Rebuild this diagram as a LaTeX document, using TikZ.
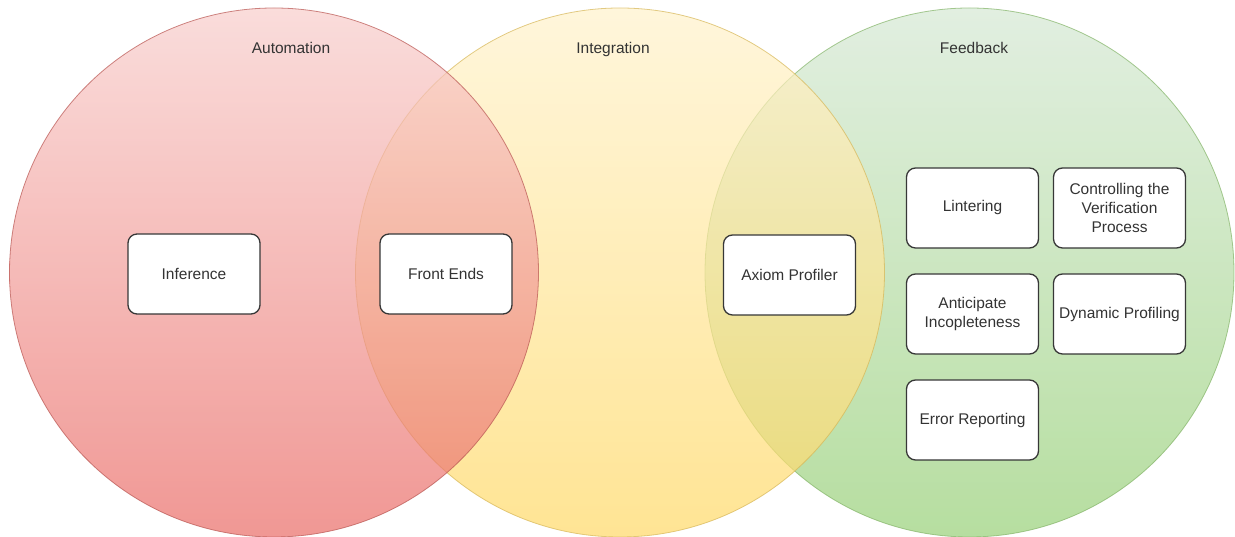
\documentclass[tikz,border=0pt]{standalone}
\usepackage{fontspec}
\setmainfont{Liberation Sans}
\begin{document}
\begin{tikzpicture}[x=1pt,y=1pt,
    topic/.style={font=\fontsize{15.5}{19}\selectfont,text=labeltext,anchor=base},
    item/.style={draw=boxstroke,fill=white,line width=1.3pt,rounded corners=9pt,
      minimum width=132pt,minimum height=80pt,inner sep=0pt,align=center,
      font=\fontsize{15.5}{19}\selectfont,text=labeltext}]
  \definecolor{labeltext}{RGB}{51,51,51}
  \definecolor{boxstroke}{RGB}{55,55,55}
  \definecolor{redupper}{RGB}{248,206,204}
  \definecolor{redlower}{RGB}{234,107,102}
  \definecolor{redstroke}{RGB}{184,84,80}
  \definecolor{yelupper}{RGB}{255,242,204}
  \definecolor{yellower}{RGB}{255,217,102}
  \definecolor{yelstroke}{RGB}{214,182,86}
  \definecolor{grnupper}{RGB}{213,232,212}
  \definecolor{grnlower}{RGB}{151,208,119}
  \definecolor{grnstroke}{RGB}{130,179,102}
  \useasboundingbox (0,0) rectangle (1235,537);
  \coordinate (A) at (274,264.5);
  \coordinate (I) at (620,264.5);
  \coordinate (F) at (969.5,264.5);
  % circles, back to front
  \shade[top color=grnupper,bottom color=grnlower,fill opacity=0.7] (F) circle (264.5);
  \draw[grnstroke,line width=0.8pt,opacity=0.7] (F) circle (264.5);
  \shade[top color=yelupper,bottom color=yellower,fill opacity=0.7] (I) circle (264.5);
  \draw[yelstroke,line width=0.8pt,opacity=0.7] (I) circle (264.5);
  \shade[top color=redupper,bottom color=redlower,fill opacity=0.7] (A) circle (264.5);
  \draw[redstroke,line width=0.8pt,opacity=0.7] (A) circle (264.5);
  \node[topic] (automation) at (291,483) {Automation};
  \node[topic] (integration) at (613,483) {Integration};
  \node[topic] (feedback) at (974,483) {Feedback};
  \node[item] (inference) at (194,263) {Inference};
  \node[item] (frontends) at (446,263) {Front Ends};
  \node[item] (axiom) at (789.5,262) {Axiom Profiler};
  \node[item] (lintering) at (972.5,329) {Lintering};
  \node[item] (controlling) at (1119.5,329) {Controlling the\\Verification\\Process};
  \node[item] (anticipate) at (972.5,223) {Anticipate\\Incopleteness};
  \node[item] (dynamic) at (1119.5,223) {Dynamic Profiling};
  \node[item] (error) at (972.5,117) {Error Reporting};
\end{tikzpicture}
\end{document}
